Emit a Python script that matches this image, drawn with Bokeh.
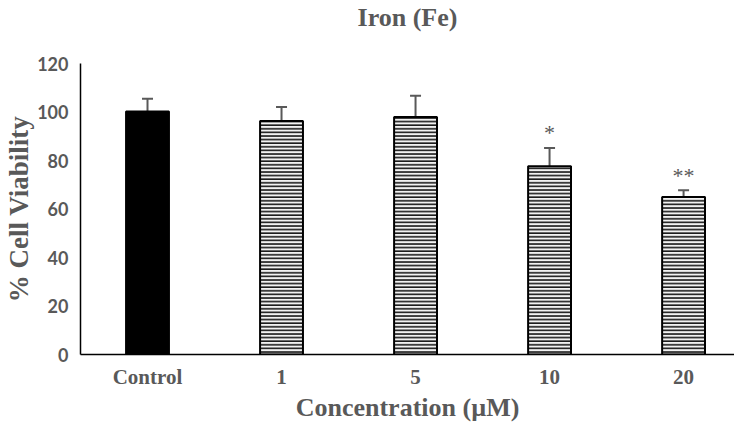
from bokeh.plotting import figure
from bokeh.models import ColumnDataSource, Whisker, FixedTicker, Range1d, TeeHead, Title
from bokeh.core.properties import value
from bokeh.embed import file_html
from bokeh.resources import INLINE

categories = ["Control", "1", "5", "10", "20"]
viability = [100.2, 96.3, 97.9, 77.6, 65.0]
sem = [5.3, 5.8, 8.8, 7.6, 2.7]
sig_marks = ["", "", "", "*", "**"]
sig_y = [0, 0, 0, 91.5, 74.0]

xs = list(range(len(categories)))
upper = [v + s for v, s in zip(viability, sem)]

GRAY = "#595959"
SERIF = "Liberation Serif"

p = figure(width=734, height=424, output_backend="svg", toolbar_location=None,
           x_range=Range1d(-0.5, 4.38), y_range=Range1d(0, 120),
           min_border_left=80, min_border_right=0, min_border_top=60, min_border_bottom=68)
p.outline_line_color = None
p.grid.grid_line_color = None
p.background_fill_color = "white"

p.title.text = "Iron (Fe)"
p.title.align = "center"
p.title.text_font = SERIF
p.title.text_font_size = "26px"
p.title.text_font_style = "bold"
p.title.text_color = GRAY
p.title.standoff = 0

spacer = Title(text="\u00a0", text_font_size="26px", standoff=0)
p.add_layout(spacer, "above")

ctrl = ColumnDataSource(dict(x=xs[:1], top=viability[:1]))
treat = ColumnDataSource(dict(x=xs[1:], top=viability[1:]))

p.vbar(x="x", top="top", bottom=0, width=0.32, source=ctrl,
       fill_color="black", line_color="black", line_width=2)
p.vbar(x="x", top="top", bottom=0, width=0.32, source=treat,
       fill_color="#f2f2f2", line_color="black", line_width=2,
       hatch_pattern="horizontal_line", hatch_color="#1a1a1a",
       hatch_scale=3.6, hatch_weight=1.6)

err = ColumnDataSource(dict(x=xs, lower=viability, upper=upper))
w = Whisker(base="x", lower="lower", upper="upper", source=err,
            line_color=GRAY, line_width=2,
            upper_head=TeeHead(size=11, line_color=GRAY, line_width=2),
            lower_head=None)
p.add_layout(w)

sig = ColumnDataSource(dict(x=xs, y=sig_y, t=sig_marks))
p.text(x="x", y="y", text="t", source=sig, text_align="center", text_baseline="middle",
       text_font=value(SERIF), text_font_size="22px", text_color=GRAY)

p.xaxis.ticker = FixedTicker(ticks=xs)
p.xaxis.major_label_overrides = {i: c for i, c in zip(xs, categories)}
p.xaxis.major_label_text_font = SERIF
p.xaxis.major_label_text_font_style = "bold"
p.xaxis.major_label_text_font_size = "21px"
p.xaxis.major_label_text_color = GRAY
p.xaxis.major_label_standoff = 10
p.xaxis.axis_label = "Concentration (µM)"
p.xaxis.axis_label_text_font = SERIF
p.xaxis.axis_label_text_font_style = "bold"
p.xaxis.axis_label_text_font_size = "26px"
p.xaxis.axis_label_text_color = GRAY
p.xaxis.axis_label_standoff = 1

p.yaxis.ticker = FixedTicker(ticks=[0, 20, 40, 60, 80, 100, 120])
p.yaxis.major_label_text_font = "Lato"
p.yaxis.major_label_text_font_style = "bold"
p.yaxis.major_label_text_font_size = "18px"
p.yaxis.major_label_text_color = GRAY
p.yaxis.major_label_standoff = 12
p.yaxis.axis_label = "% Cell Viability"
p.yaxis.axis_label_text_font = SERIF
p.yaxis.axis_label_text_font_style = "bold"
p.yaxis.axis_label_text_font_size = "27px"
p.yaxis.axis_label_text_color = GRAY
p.yaxis.axis_label_standoff = 0

for ax in (p.xaxis, p.yaxis):
    ax.axis_line_color = "black"
    ax.axis_line_width = 1.5
    ax.major_tick_line_color = None
    ax.minor_tick_line_color = None
    ax.major_tick_out = 0
    ax.major_tick_in = 0

open("out.html", "w").write(file_html(p, INLINE))
